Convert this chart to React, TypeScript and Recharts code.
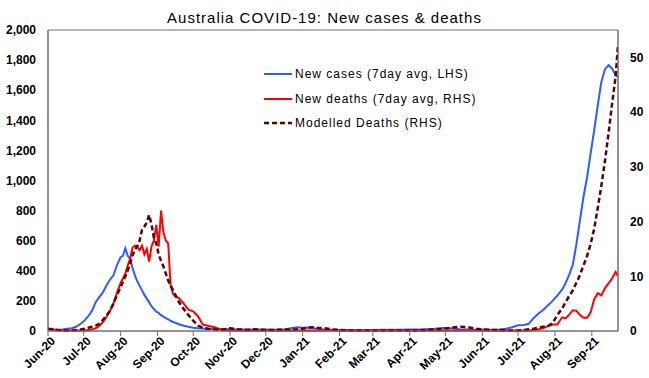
import React from "react";
import { LineChart, Line, XAxis, YAxis, Legend, ReferenceArea } from "recharts";

// ---- data ----
const dates = [
  "2020-06-01", "2020-06-05", "2020-06-09", "2020-06-13", "2020-06-17", "2020-06-21", "2020-06-25", "2020-06-29",
  "2020-07-02", "2020-07-05", "2020-07-08", "2020-07-11", "2020-07-14", "2020-07-17", "2020-07-20", "2020-07-23", "2020-07-26", "2020-07-29",
  "2020-08-01", "2020-08-03", "2020-08-05", "2020-08-07", "2020-08-09", "2020-08-11", "2020-08-13", "2020-08-15", "2020-08-17", "2020-08-19", "2020-08-21", "2020-08-23", "2020-08-25", "2020-08-27", "2020-08-29", "2020-08-31",
  "2020-09-02", "2020-09-04", "2020-09-06", "2020-09-08", "2020-09-10", "2020-09-12", "2020-09-14", "2020-09-16", "2020-09-19", "2020-09-23", "2020-09-27",
  "2020-10-01", "2020-10-05", "2020-10-09", "2020-10-14", "2020-10-19", "2020-10-25",
  "2020-11-01", "2020-11-08", "2020-11-15", "2020-11-22", "2020-12-01", "2020-12-08", "2020-12-15", "2020-12-22", "2020-12-28",
  "2021-01-01", "2021-01-05", "2021-01-09", "2021-01-13", "2021-01-19", "2021-01-26", "2021-02-01", "2021-02-08", "2021-02-15", "2021-02-22",
  "2021-03-01", "2021-03-08", "2021-03-15", "2021-03-22", "2021-04-01", "2021-04-08", "2021-04-15", "2021-04-22", "2021-04-29", "2021-05-06", "2021-05-13", "2021-05-20", "2021-05-27",
  "2021-06-01", "2021-06-08", "2021-06-15", "2021-06-21", "2021-06-26",
  "2021-07-01", "2021-07-06", "2021-07-10", "2021-07-14", "2021-07-18", "2021-07-22", "2021-07-26", "2021-07-30",
  "2021-08-03", "2021-08-07", "2021-08-10", "2021-08-13", "2021-08-16", "2021-08-19", "2021-08-22", "2021-08-25", "2021-08-28", "2021-08-31",
  "2021-09-03", "2021-09-06", "2021-09-09", "2021-09-12", "2021-09-15", "2021-09-18", "2021-09-21", "2021-09-23",
];

const newCases = [
  10, 8, 7, 10, 15, 18, 30, 51,
  72, 100, 135, 190, 225, 255, 300, 340, 370, 440,
  490, 500, 550, 500, 480, 420, 370, 330, 300, 270, 240, 215, 190, 165, 145, 128,
  120, 105, 95, 85, 78, 68, 60, 55, 45, 35, 28,
  22, 18, 16, 14, 14, 13,
  12, 10, 10, 10, 10, 9, 8, 18, 25,
  22, 24, 20, 15, 10, 8, 7, 6, 5, 5,
  7, 8, 9, 9, 10, 10, 12, 15, 20, 18, 12, 10, 9,
  10, 9, 10, 15, 25,
  38, 40, 48, 85, 115, 140, 170, 200,
  235, 275, 318, 375, 440, 575, 735, 892, 1020, 1180,
  1335, 1500, 1655, 1740, 1766, 1745, 1698, 1688,
];

const newDeaths = [
  0.3, 0.3, 0.2, 0.1, 0.1, 0.1, 0.1, 0.1,
  0.1, 0.2, 0.3, 0.5, 0.9, 1.6, 2.5, 3.6, 5.0, 7.0,
  8.8, 9.6, 10.5, 12.0, 13.2, 15.2, 15.6, 15.4, 14.8, 15.6, 14.0, 15.0, 12.7, 15.5, 16.5, 19.4,
  15.4, 22.0, 18.0, 16.5, 16.0, 8.4, 6.8, 6.3, 6.0, 5.0, 3.9,
  3.6, 2.7, 1.2, 0.9, 0.7, 0.2,
  0.1, 0.1, 0.1, 0.1, 0.1, 0.1, 0.1, 0.1, 0.1,
  0.1, 0.1, 0.1, 0.1, 0.1, 0.1, 0.1, 0.1, 0.1, 0.1,
  0.1, 0.1, 0.1, 0.1, 0.1, 0.1, 0.1, 0.1, 0.1, 0.1, 0.1, 0.1, 0.1,
  0.1, 0.1, 0.1, 0.1, 0.1,
  0.1, 0.1, 0.1, 0.2, 0.3, 0.5, 0.9, 1.2,
  1.2, 2.5, 2.3, 3.0, 3.8, 3.7, 2.9, 2.4, 2.4, 3.4,
  5.8, 6.9, 6.5, 7.8, 8.7, 9.6, 10.8, 10.0,
];

const modelledDeaths = [
  0.4, 0.3, 0.2, 0.1, 0.1, 0.1, 0.2, 0.3,
  0.4, 0.6, 0.8, 1.0, 1.3, 2.0, 2.8, 3.7, 5.0, 6.6,
  8.0, 9.0, 10.0, 11.1, 12.3, 13.8, 14.8, 15.5, 16.5, 18.5, 19.1, 19.8, 21.2, 19.5, 17.0, 16.0,
  14.0, 12.8, 11.8, 10.5, 9.2, 8.3, 7.5, 6.6, 5.3, 4.0, 2.9,
  1.9, 1.0, 0.6, 0.4, 0.3, 0.2,
  0.5, 0.3, 0.2, 0.3, 0.2, 0.2, 0.3, 0.2, 0.3,
  0.4, 0.6, 0.7, 0.6, 0.5, 0.3, 0.2, 0.1, 0.1, 0.1,
  0.1, 0.1, 0.1, 0.1, 0.1, 0.1, 0.2, 0.3, 0.4, 0.6, 0.8, 0.7, 0.4,
  0.3, 0.2, 0.2, 0.1, 0.1,
  0.1, 0.2, 0.3, 0.4, 0.6, 0.8, 0.9, 1.4,
  2.9, 4.1, 5.3, 6.4, 7.4, 8.8, 10.2, 12.0, 13.7, 15.9,
  18.7, 22.5, 26.5, 31.0, 36.0, 41.5, 46.5, 52.3,
];

const monthTicks = [
  "2020-06-01", "2020-07-01", "2020-08-01", "2020-09-01", "2020-10-01", "2020-11-01", "2020-12-01",
  "2021-01-01", "2021-02-01", "2021-03-01", "2021-04-01", "2021-05-01", "2021-06-01", "2021-07-01",
  "2021-08-01", "2021-09-01",
];
const monthLabels = [
  "Jun-20", "Jul-20", "Aug-20", "Sep-20", "Oct-20", "Nov-20", "Dec-20",
  "Jan-21", "Feb-21", "Mar-21", "Apr-21", "May-21", "Jun-21", "Jul-21",
  "Aug-21", "Sep-21",
];
const leftTicks = [0, 200, 400, 600, 800, 1000, 1200, 1400, 1600, 1800, 2000];
const rightTicks = [0, 10, 20, 30, 40, 50];
const START_DATE = "2020-06-01";
const END_DATE = "2021-09-23";

const seriesNames = {
  cases: "New cases (7day avg, LHS)",
  deaths: "New deaths (7day avg, RHS)",
  modelled: "Modelled Deaths (RHS)",
};

// ---- helpers ----
const toUTC = (s: string) => {
  const [y, m, d] = s.split("-").map(Number);
  return Date.UTC(y, m - 1, d);
};
const dayOf = (s: string) => Math.round((toUTC(s) - toUTC(START_DATE)) / 86400000);

const data = dates.map((d, i) => ({
  t: dayOf(d),
  cases: newCases[i],
  deaths: newDeaths[i],
  modelled: modelledDeaths[i],
}));
const tickDays = monthTicks.map(dayOf);
const labelByDay: Record<number, string> = {};
tickDays.forEach((d, i) => (labelByDay[d] = monthLabels[i]));

const FONT = "Arial, 'Liberation Sans', sans-serif";
const AXIS = "#707070";
const BLUE = "#2f5cff";
const RED = "#ff0000";
const DARK = "#5c0000";

const XTick = (props: any) => {
  const { x, y, payload } = props;
  return (
    <g transform={`translate(${x},${y})`}>
      <text
        x={3}
        y={4}
        transform="rotate(-45)"
        textAnchor="end"
        fontFamily={FONT}
        fontSize={12}
        fontWeight={700}
        fill="#000"
        dy="0.35em"
      >
        {labelByDay[payload.value]}
      </text>
    </g>
  );
};

const LegendBox = () => {
  const rows = [
    { name: seriesNames.cases, color: BLUE, dash: undefined, w: 2 },
    { name: seriesNames.deaths, color: RED, dash: undefined, w: 2 },
    { name: seriesNames.modelled, color: DARK, dash: "5 3", w: 2.5 },
  ];
  return (
    <div style={{ fontFamily: FONT, fontSize: 12, color: "#000" }}>
      {rows.map((r) => (
        <div key={r.name} style={{ display: "flex", alignItems: "center", height: 24.5 }}>
          <svg width={30} height={6} style={{ marginRight: 2 }}>
            <line x1={1} y1={3} x2={29} y2={3} stroke={r.color} strokeWidth={r.w} strokeDasharray={r.dash} />
          </svg>
          <span style={{ letterSpacing: 1.0, whiteSpace: "nowrap" }}>{r.name}</span>
        </div>
      ))}
    </div>
  );
};

export default function App() {
  const endDay = dayOf(END_DATE);
  return (
    <div style={{ position: "absolute", left: 0, top: 0, width: 649, height: 378, background: "#fff" }}>
      <LineChart width={649} height={378} data={data} margin={{ top: 30, right: 0, bottom: 0, left: 0 }}>
        <XAxis
          dataKey="t"
          type="number"
          domain={[0, endDay]}
          ticks={tickDays}
          interval={0}
          height={47}
          tickSize={5}
          tickMargin={2}
          stroke={AXIS}
          tick={<XTick />}
          allowDataOverflow
        />
        <YAxis
          yAxisId="left"
          domain={[0, 2000]}
          ticks={leftTicks}
          width={48}
          tickLine={false}
          tickSize={0}
          tickMargin={12}
          stroke={AXIS}
          tickFormatter={(v: number) => v.toLocaleString("en-US")}
          tick={{ fontSize: 12, fontWeight: 700, fill: "#000", fontFamily: FONT }}
        />
        <YAxis
          yAxisId="right"
          orientation="right"
          domain={[0, 55]}
          ticks={rightTicks}
          width={31}
          tickLine={false}
          tickSize={0}
          tickMargin={12}
          stroke={AXIS}
          tick={{ fontSize: 12, fontWeight: 700, fill: "#000", fontFamily: FONT, textAnchor: "start" }}
        />
        <ReferenceArea
          yAxisId="left"
          x1={0}
          x2={endDay}
          y1={0}
          y2={2000}
          fill="none"
          fillOpacity={0}
          stroke={AXIS}
          strokeWidth={1}
        />
        <Line
          yAxisId="left"
          dataKey="cases"
          name={seriesNames.cases}
          stroke={BLUE}
          strokeWidth={2}
          dot={false}
          isAnimationActive={false}
        />
        <Line
          yAxisId="right"
          dataKey="deaths"
          name={seriesNames.deaths}
          stroke={RED}
          strokeWidth={2}
          dot={false}
          isAnimationActive={false}
        />
        <Line
          yAxisId="right"
          dataKey="modelled"
          name={seriesNames.modelled}
          stroke={DARK}
          strokeWidth={2.5}
          strokeDasharray="5 3"
          dot={false}
          isAnimationActive={false}
        />
        <Legend
          layout="vertical"
          align="center"
          verticalAlign="middle"
          content={<LegendBox />}
          wrapperStyle={{ left: 263, top: 62, width: 280 }}
        />
      </LineChart>
      <div
        style={{
          position: "absolute",
          left: 0,
          top: 9,
          width: 649,
          textAlign: "center",
          fontFamily: FONT,
          fontSize: 15,
          letterSpacing: 1,
          color: "#000",
          lineHeight: "17px",
        }}
      >
        Australia COVID-19: New cases &amp; deaths
      </div>
    </div>
  );
}
